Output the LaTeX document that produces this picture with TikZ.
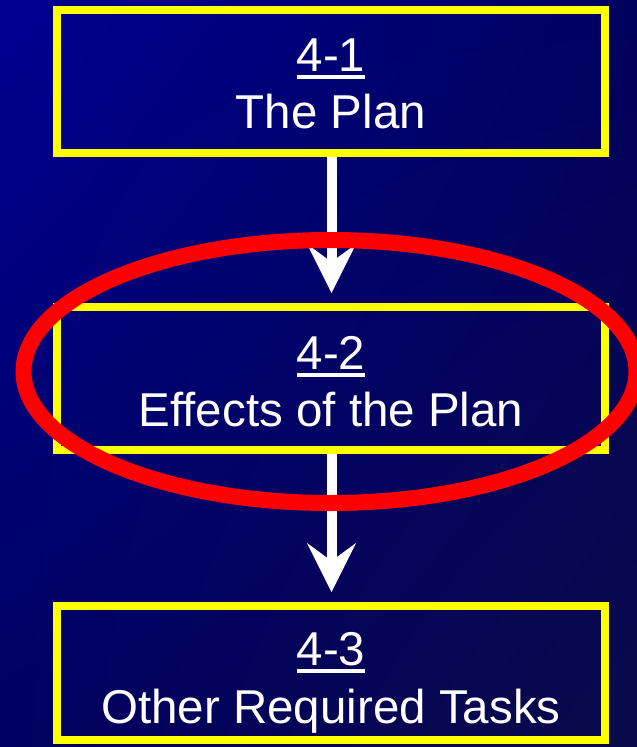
\documentclass[tikz,border=0pt]{standalone}
\usepackage{fontspec}
\setmainfont{Liberation Sans}
\usetikzlibrary{arrows.meta,shapes.geometric,shadings}
\definecolor{bgUL}{HTML}{000092}
\definecolor{bgUR}{HTML}{00005E}
\definecolor{bgLL}{HTML}{000060}
\definecolor{bgLR}{HTML}{0A0A4A}
\definecolor{ylw}{HTML}{FFFF00}
\definecolor{hlred}{HTML}{FF0000}
\newcommand\ulnum[1]{\setbox0\hbox{#1}\rlap{\rule[-7.7pt]{\wd0}{3.4pt}}\box0}
\begin{document}
\begin{tikzpicture}[x=1pt,y=-1pt,
  box/.style={draw=ylw, line width=8pt, rectangle, inner sep=0pt, minimum width=548pt},
  lbl/.style={text=white, inner sep=0pt, anchor=base, font=\fontsize{47.5}{57}\selectfont},
  flow/.style={draw=white, line width=10pt, shorten >=10pt,
    -{Stealth[length=49pt, width=49pt, inset=18pt, line width=0pt]}},
  hilite/.style={draw=hlred, line width=16pt, ellipse, inner sep=0pt}]
\useasboundingbox (0,0) rectangle (637,747);
\shade[upper left=bgUL, upper right=bgUR, lower left=bgLL, lower right=bgLR] (0,0) rectangle (637,747);
% boxes
\node[box, minimum height=143pt] (b1) at (331,81.5) {};
\node[box, minimum height=143pt] (b2) at (331,378.5) {};
\node[box, minimum height=134pt] (b3) at (331,673) {};
% connectors
\draw[flow] ([xshift=0.5pt]b1.south) -- ([xshift=0.5pt]b2.north);
\draw[flow] ([xshift=0.5pt]b2.south) -- ([xshift=0.5pt]b3.north);
% labels
\node[lbl] (t1a) at (331,71) {\ulnum{4-1}};
\node[lbl] (t1b) at (331,128) {The Plan};
\node[lbl] (t2a) at (331,369) {\ulnum{4-2}};
\node[lbl] (t2b) at (331,426) {Effects of the Plan};
\node[lbl] (t3a) at (331,665) {\ulnum{4-3}};
\node[lbl] (t3b) at (331,723) {Other Required Tasks};
% highlight
\node[hilite, minimum width=613pt, minimum height=263pt] (hl) at (330,371.5) {};
\end{tikzpicture}
\end{document}
